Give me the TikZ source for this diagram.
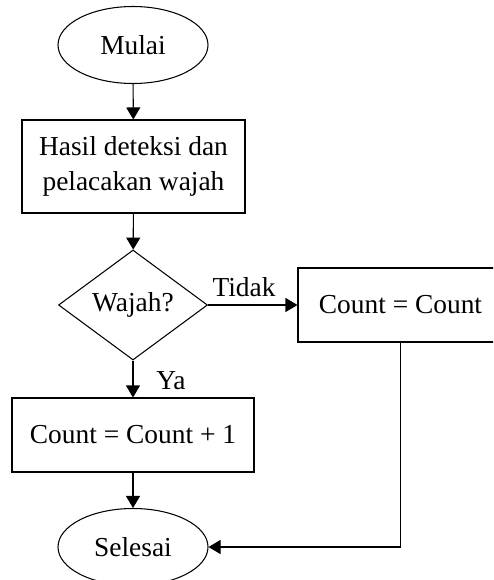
\documentclass[tikz,border=0pt]{standalone}
\usepackage{fontspec}
\setmainfont{Liberation Serif}
\usetikzlibrary{arrows.meta,shapes.geometric}
\tikzset{
  flowline/.style={line width=0.6pt,-{Triangle[length=0.24cm,width=0.28cm]}},
  terminal/.style={draw,ellipse,line width=0.6pt,minimum width=3cm,minimum height=1.54cm,inner sep=0pt},
  process/.style={draw,rectangle,line width=0.6pt,align=center,inner sep=0pt},
  decision/.style={draw,diamond,aspect=1.35,line width=0.6pt,minimum width=2.98cm,minimum height=2.2cm,inner sep=0pt},
  lbl/.style={inner sep=0pt}
}
\begin{document}
\begin{tikzpicture}[font=\fontsize{15.6}{19.9}\selectfont]
  \useasboundingbox (0,0) rectangle (9.86,-11.6);
  \clip (0,0) rectangle (9.86,-11.6);
  % nodes of the flow
  \node[terminal] (mulai) at (2.66,-0.9) {Mulai};
  \node[process,minimum width=4.46cm,minimum height=1.86cm] (hasil) at (2.67,-3.33) {Hasil deteksi dan\\pelacakan wajah};
  \node[decision] (wajah) at (2.66,-6.1) {Wajah?};
  \node[process,minimum width=4.1cm,minimum height=1.48cm] (tetap) at (8.01,-6.1) {Count = Count};
  \node[process,minimum width=4.84cm,minimum height=1.48cm] (tambah) at (2.66,-8.7) {Count = Count + 1};
  \node[terminal] (selesai) at (2.66,-10.94) {Selesai};
  % connectors
  \draw[flowline] (mulai) -- (hasil);
  \draw[flowline] (hasil) -- (wajah);
  \draw[flowline] (wajah) -- (tetap);
  \draw[flowline] (wajah) -- (tambah);
  \draw[flowline] (tambah) -- (selesai);
  \draw[flowline] (tetap.south) |- (selesai.east);
  % branch labels
  \node[lbl] (tidak) at (4.88,-5.74) {Tidak};
  \node[lbl] (ya) at (3.42,-7.62) {Ya};
\end{tikzpicture}
\end{document}
